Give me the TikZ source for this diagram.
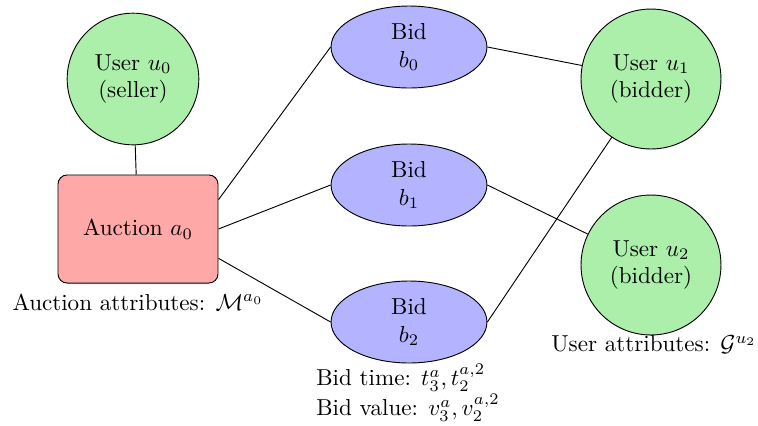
\documentclass[tikz,border=0pt]{standalone}
\usetikzlibrary{shapes.geometric}
\definecolor{userfill}{RGB}{172,239,170}
\definecolor{bidfill}{RGB}{179,179,255}
\definecolor{auctionfill}{RGB}{255,168,168}
\tikzset{
  user/.style={circle, draw, fill=userfill, align=center, minimum size=60.6pt, inner sep=1pt},
  seller/.style={user, minimum size=57pt},
  bid/.style={ellipse, draw, fill=bidfill, align=center, minimum width=67.5pt, minimum height=35.5pt, inner sep=1pt},
  auction/.style={rectangle, rounded corners=4pt, draw, fill=auctionfill, align=center, minimum width=69.3pt, minimum height=46.8pt},
  attr/.style={inner sep=0pt}
}
\begin{document}
\begin{tikzpicture}[x=0.433pt, y=-0.433pt]
  \useasboundingbox (0,0) rectangle (758,425);

  % users
  \node[seller] (u0) at (133,79) {User $u_0$\\(seller)};
  \node[user] (u1) at (651,79) {User $u_1$\\(bidder)};
  \node[user] (u2) at (651,265) {User $u_2$\\(bidder)};

  % auction
  \node[auction] (a0) at (138,229) {Auction $a_0$};

  % bids
  \node[bid] (b0) at (409,47) {Bid\\$b_0$};
  \node[bid] (b1) at (409,185) {Bid\\$b_1$};
  \node[bid] (b2) at (409,322) {Bid\\$b_2$};

  % attribute labels
  \node[attr] (am) at (138,302) {Auction attributes: $\mathcal{M}^{a_0}$};
  \node[attr] (ug) at (654,345) {User attributes: $\mathcal{G}^{u_2}$};
  \node[attr, align=left] (bt) at (408,393) {Bid time: $t_3^a, t_2^{a,2}$\\[1pt]Bid value: $v_3^a, v_2^{a,2}$};

  % connections
  \draw (u0) -- (a0);
  \draw (a0.20) -- (b0.west);
  \draw (a0.east) -- (b1.west);
  \draw (a0.-20) -- (b2.west);
  \draw (b0.east) -- (u1);
  \draw (b1.east) -- (u2);
  \draw (b2.east) -- (u1);
\end{tikzpicture}
\end{document}
